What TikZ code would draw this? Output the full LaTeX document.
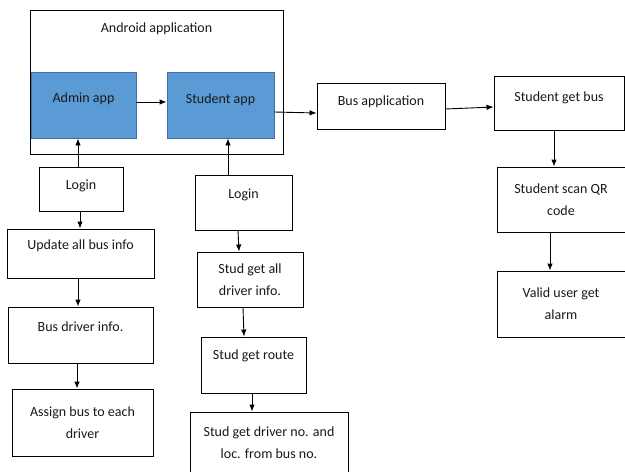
\documentclass[tikz,border=0pt]{standalone}
\usepackage{fontspec}
\setmainfont{Carlito}
\usetikzlibrary{arrows.meta,shapes}
\definecolor{appblue}{HTML}{5B9BD5}
\definecolor{appline}{HTML}{41719C}
\tikzstyle{box}=[draw, rectangle, line width=0.9pt, inner sep=2pt, align=center, font=\fontsize{14}{22}\selectfont, text=black!90]
\tikzstyle{app box}=[box, fill=appblue, draw=appline]
\tikzstyle{edge} = [draw, line width=0.9pt, -{Latex[length=7pt,width=5.5pt]}]

\begin{document}
\begin{tikzpicture}[x=1pt, y=-1pt]
	\useasboundingbox (0,0) rectangle (625,472);
	% First the one-line boxes
	\foreach \pos/\name/\w/\h/\down/\txt in {
		{(156.5,82)/android/253/144/109/Android application},
		{(381,106)/busapp/128/46/11/Bus application},
		{(559,103)/getbus/130/54/13/Student get bus},
		{(81,189)/login1/84/44/9/Login},
		{(243.5,202.5)/login2/97/55/17/Login},
		{(80.5,253.5)/update/147/49/17/Update all bus info},
		{(80.5,335)/driverinfo/145/56/17/Bus driver info.},
		{(253.5,365)/route/105/56/21/Stud get route}}
	\node[box, minimum width=\w pt, minimum height=\h pt, text depth=\down pt] (\name) at \pos {\txt};
	
	\foreach \pos/\name/\w/\h/\down/\txt in {
		{(83.5,105)/admin/105/66/15/Admin app},
		{(220.5,105)/studentapp/107/66/13/Student app}}
	\node[app box, minimum width=\w pt, minimum height=\h pt, text depth=\down pt] (\name) at \pos {\txt};
	
	% Then the two-line boxes
	\foreach \pos/\name/\w/\h/\txt in {
		{(561,199.5)/scanqr/128/65/Student scan QR\\code},
		{(561,304)/valid/128/66/Valid user get\\alarm},
		{(82.5,422.5)/assign/141/67/Assign bus to each\\driver},
		{(250,279.5)/allinfo/106/55/Stud get all\\driver info.},
		{(269,443)/driverno/158/62/Stud get driver no. and\\loc. from bus no.}}
	\node[box, minimum width=\w pt, minimum height=\h pt] (\name) at \pos {\txt};
	
	% Connect the boxes
	\path[edge] ([yshift=3pt]admin.east) -- ([yshift=3pt]studentapp.west);
	\path[edge] ([yshift=-7pt]studentapp.east) -- ([yshift=-7pt]busapp.west);
	\path[edge] ([yshift=-3pt]busapp.east) -- ([yshift=-4pt]getbus.west);
	\path[edge] ([xshift=-3pt]login1.north) -- ([xshift=-5.5pt]admin.south);
	\path[edge] ([xshift=-15.5pt]login2.north) -- ([xshift=7.5pt]studentapp.south);
	\foreach \source/\sx/\dest/\dx in {
		getbus/-5/scanqr/-7,
		scanqr/-11/valid/-11,
		login1/-1/update/-0.5,
		update/-2.5/driverinfo/-2.5,
		driverinfo/-3.5/assign/-5.5,
		login2/-5.5/allinfo/-11,
		allinfo/-7/route/-9.5,
		route/-1.5/driverno/-17}
	\path[edge] ([xshift=\sx pt]\source.south) -- ([xshift=\dx pt]\dest.north);

\end{tikzpicture}
\end{document}
